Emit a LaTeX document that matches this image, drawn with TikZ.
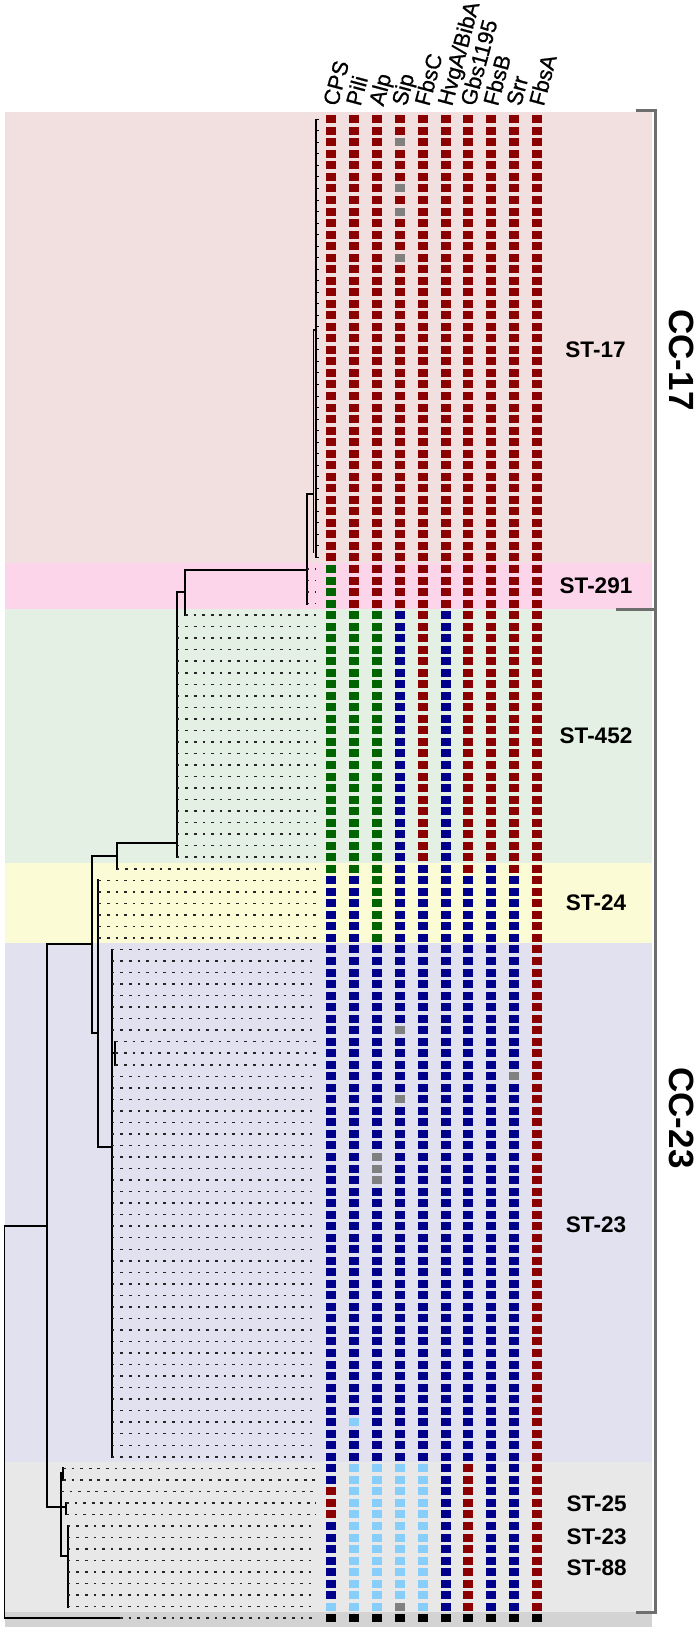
\documentclass[tikz,border=0pt]{standalone}
\usepackage{fontspec}
\setmainfont{Liberation Sans}
\newfontfamily\hdrfont[FakeBold=0.8]{Liberation Sans}
\definecolor{cR}{RGB}{139,0,0}
\definecolor{cG}{RGB}{0,100,0}
\definecolor{cB}{RGB}{0,0,139}
\definecolor{cL}{RGB}{135,206,250}
\definecolor{cY}{RGB}{128,128,128}
\definecolor{cK}{RGB}{0,0,0}
\definecolor{bA}{RGB}{242,224,224}
\definecolor{bB}{RGB}{253,213,234}
\definecolor{bC}{RGB}{227,240,227}
\definecolor{bD}{RGB}{251,251,213}
\definecolor{bE}{RGB}{225,225,240}
\definecolor{bF}{RGB}{232,232,232}
\definecolor{bH}{RGB}{211,211,211}
\definecolor{brkc}{RGB}{110,110,110}
\newcommand\sqrange[3]{\foreach \ii in {#1,...,#2}{\foreach \cc [count=\jj from 0] in {#3}{\fill[fill=c\cc] ({331+22.9*\jj-5},{119.3+11.53*\ii-4}) rectangle ++(10,8);}}}
\newcommand\sqone[3]{\fill[fill=c#3] ({331+22.9*#1-5},{119.3+11.53*#2-4}) rectangle ++(10,8);}
\newcommand\leafline[2]{\draw[lf] (#1,{119.3+11.53*#2}) -- (316,{119.3+11.53*#2});}
\newcommand\leafrange[3]{\foreach \ii in {#2,...,#3}{\leafline{#1}{\ii}}}
\newcommand\hdrsize{\hdrfont\fontsize{22}{24}\selectfont}
\begin{document}
\begin{tikzpicture}[x=1pt,y=-1pt,
  tr/.style={line width=1.8pt, black, line cap=rect},
  lf/.style={line width=1.5pt, black!85, dash pattern=on 2.7pt off 5.9pt},
  brk/.style={line width=3pt, brkc},
  hdr/.style={rotate=75, anchor=base west, inner sep=0pt},
  stl/.style={font=\bfseries\fontsize{22.5}{24}\selectfont, inner sep=0pt},
  ccl/.style={font=\bfseries\fontsize{35}{38}\selectfont, rotate=-90, inner sep=0pt}]
\useasboundingbox (0,0) rectangle (700,1631);
% background bands
\fill[bA] (5,112.3) rectangle (651.5,563);
\fill[bB] (5,563) rectangle (651.5,609.1);
\fill[bC] (5,609.1) rectangle (651.5,862.7);
\fill[bD] (5,862.7) rectangle (651.5,943.4);
\fill[bE] (5,943.4) rectangle (651.5,1462);
\fill[bF] (5,1462) rectangle (651.5,1611.9);
\fill[bH] (5,1611.9) rectangle (651.5,1626.7);
% bracket
\draw[brk] (636,110.7) -- (655.5,110.7) -- (655.5,1612) -- (636,1612);
\draw[brk] (616,609.3) -- (655.5,609.3);
% squares
\sqrange{0}{38}{R,R,R,R,R,R,R,R,R,R}
\sqrange{39}{42}{G,R,R,R,R,R,R,R,R,R}
\sqrange{43}{64}{G,G,G,B,R,B,R,R,R,R}
\sqrange{65}{65}{G,G,G,B,B,B,R,B,R,R}
\sqrange{66}{71}{B,B,G,B,B,B,B,B,B,R}
\sqrange{72}{116}{B,B,B,B,B,B,B,B,B,R}
\sqrange{117}{118}{B,L,L,L,L,B,R,B,B,R}
\sqrange{119}{121}{R,L,L,L,L,B,R,B,B,R}
\sqrange{122}{128}{B,L,L,L,L,B,R,B,B,R}
\sqrange{129}{129}{L,L,L,Y,L,B,R,B,B,R}
\sqrange{130}{130}{K,K,K,K,K,K,K,K,K,K}
\sqone{3}{2}{Y}\sqone{3}{6}{Y}\sqone{3}{8}{Y}\sqone{3}{12}{Y}
\sqone{3}{79}{Y}\sqone{3}{85}{Y}\sqone{8}{83}{Y}
\sqone{2}{90}{Y}\sqone{2}{91}{Y}\sqone{2}{92}{Y}
\sqone{1}{113}{L}
% header labels
\node[hdr] (h0) at ({331+6.5},107) {\hdrsize CPS};
\node[hdr] (h1) at ({331+22.9*1+6.5},107) {\hdrsize Pili};
\node[hdr] (h2) at ({331+22.9*2+6.5},107) {\hdrsize Alp};
\node[hdr] (h3) at ({331+22.9*3+6.5},107) {\hdrsize Sip};
\node[hdr] (h4) at ({331+22.9*4+6.5},107) {\hdrsize FbsC};
\node[hdr] (h5) at ({331+22.9*5+6.5},107) {\hdrsize HvgA/BibA};
\node[hdr] (h6) at ({331+22.9*6+6.5},107) {\hdrsize Gbs1195};
\node[hdr] (h7) at ({331+22.9*7+6.5},107) {\hdrsize FbsB};
\node[hdr] (h8) at ({331+22.9*8+6.5},107) {\hdrsize Srr};
\node[hdr] (h9) at ({331+22.9*9+6.5},107) {\hdrsize FbsA};
% group labels
\node[stl] (st17) at (595.5,350) {ST-17};
\node[stl] (st291) at (596,586) {ST-291};
\node[stl] (st452) at (596,736) {ST-452};
\node[stl] (st24) at (596,903) {ST-24};
\node[stl] (st23) at (596,1225) {ST-23};
\node[stl] (st25) at (596.7,1504) {ST-25};
\node[stl] (st23b) at (596.7,1536.7) {ST-23};
\node[stl] (st88) at (596.7,1567.3) {ST-88};
\node[ccl] (cc17) at (682,360) {CC-17};
\node[ccl] (cc23) at (682,1118) {CC-23};
% tree
\coordinate (root) at (4.5,1226);
\coordinate (out) at (4.5,1618.2);
\draw[tr] (root) -- (out);
\draw[tr] (root) -- (46.7,1226);
\draw[tr] (out) -- (120,1618.2);
\draw[lf] (120,1618.2) -- (316,1618.2);
\draw[tr] (46.7,944) -- (46.7,1507.3);
\draw[tr] (46.7,944) -- (91.7,944);
\draw[tr] (91.7,856) -- (91.7,1032.7);
\draw[tr] (91.7,856) -- (116.7,856);
\draw[tr] (116.7,843.3) -- (116.7,868.8);
\draw[tr] (116.7,843.3) -- (176.7,843.3);
\draw[tr] (176.7,592.3) -- (176.7,857.2);
\draw[tr] (176.7,592.3) -- (185,592.3);
\draw[tr] (185,570) -- (185,615.1);
\draw[tr] (185,570) -- (306.7,570);
\draw[tr] (306.7,494) -- (306.7,603.6);
\draw[tr] (306.7,494) -- (313.5,494);
\draw[tr] (313.5,330) -- (313.5,552);
\draw[tr] (313.5,330) -- (316,330);
\draw[tr,line width=1.2pt] (316,119.3) -- (316,557.4);
\foreach \ii in {0,...,38}{\draw[line width=1pt] (316,{119.3+11.53*\ii}) -- (318.5,{119.3+11.53*\ii});}
\leafrange{306.7}{39}{42}
\leafline{185}{43}
\leafrange{176.7}{44}{64}
\leafline{116.7}{65}
\draw[tr] (91.7,1032.7) -- (98.3,1032.7);
\draw[tr] (98.3,880.3) -- (98.3,1147.3);
\draw[tr] (98.3,1147.3) -- (111.7,1147.3);
\draw[tr] (111.7,949.5) -- (111.7,1456.8);
\draw[tr] (111.7,1053) -- (115.3,1053);
\draw[tr] (115.3,1041.7) -- (115.3,1064.8);
\leafrange{98.3}{66}{71}
\leafrange{111.7}{72}{79}
\leafrange{115.3}{80}{82}
\leafrange{111.7}{83}{116}
\draw[tr] (46.7,1507.3) -- (66,1507.3);
\draw[tr] (61,1473) -- (61,1556);
\draw[tr] (61,1473) -- (63,1473);
\draw[tr] (63,1468.3) -- (63,1479.8);
\draw[tr] (66,1502.9) -- (66,1514.4);
\draw[tr] (61,1556) -- (67.7,1556);
\draw[tr] (67.7,1526) -- (67.7,1606.7);
\leafrange{63}{117}{118}
\leafline{61}{119}
\leafrange{66}{120}{121}
\leafrange{67.7}{122}{129}
\end{tikzpicture}
\end{document}
